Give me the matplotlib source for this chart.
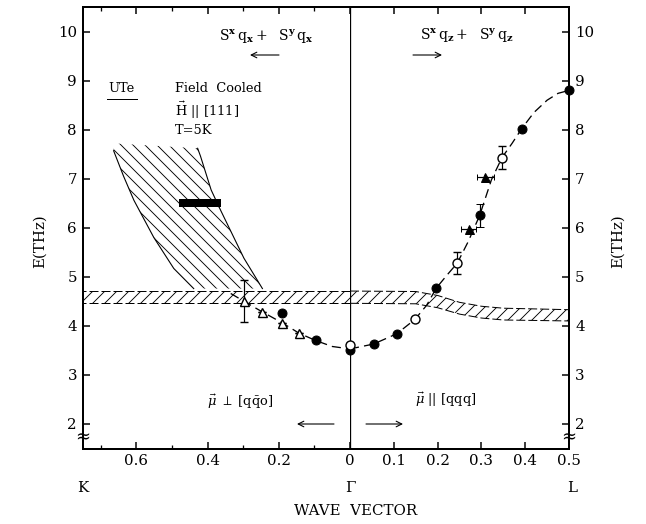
import matplotlib
matplotlib.use('Agg')
import matplotlib.pyplot as plt

W, H = 646, 524
DPI = 72
plt.rcParams['font.family'] = ['DejaVu Serif']
plt.rcParams['mathtext.fontset'] = 'dejavuserif'
plt.rcParams['hatch.linewidth'] = 0.9

# ---------------- data ----------------
# right branch  (Gamma -> L, q along [qqq])
qR_fc = [0.0, 0.054, 0.107, 0.197, 0.296, 0.392, 0.5]
ER_fc = [3.50, 3.64, 3.84, 4.77, 6.25, 8.02, 8.80]
errR_fc = [0, 0, 0, 0, 0.23, 0, 0]
qR_oc = [0.0, 0.148, 0.245, 0.347]
ER_oc = [3.60, 4.13, 5.28, 7.43]
errR_oc = [0, 0, 0.23, 0.23]
qR_ft = [0.271, 0.309]
ER_ft = [5.97, 7.03]
xerrR_ft = [0.017, 0.02]

# left branch (Gamma -> K, q along [qq0])
qL_fc = [0.096, 0.19]
EL_fc = [3.72, 4.26]
qL_ot = [0.143, 0.19, 0.248, 0.298]
EL_ot = [3.85, 4.06, 4.29, 4.51]
errL_ot = [0, 0, 0, 0.43]

# guide-to-the-eye dispersion curve
qL_curve = [0.335, 0.30, 0.25, 0.19, 0.143, 0.096, 0.05, 0.0]
EL_curve = [4.66, 4.51, 4.30, 4.06, 3.85, 3.70, 3.58, 3.53]
qR_curve = [0.0, 0.054, 0.107, 0.148, 0.175, 0.197, 0.22, 0.245, 0.27, 0.296,
            0.323, 0.347, 0.37, 0.392, 0.42, 0.45, 0.475, 0.5]
ER_curve = [3.53, 3.63, 3.84, 4.13, 4.42, 4.77, 5.02, 5.28, 5.72, 6.25,
            6.98, 7.43, 7.72, 8.02, 8.35, 8.60, 8.74, 8.80]

# hatched horizontal band
qL_band = [0.0, 0.75]
EL_band_lo = [4.47, 4.47]
EL_band_hi = [4.72, 4.72]
qR_band = [0.0, 0.15, 0.2, 0.25, 0.3, 0.35, 0.5]
ER_band_hi = [4.71, 4.70, 4.62, 4.48, 4.40, 4.36, 4.33]
ER_band_lo = [4.46, 4.45, 4.37, 4.24, 4.16, 4.12, 4.10]

# hatched continuum region (left)
q_reg_left = [0.664, 0.636, 0.607, 0.551, 0.495, 0.439]
E_reg_left = [7.57, 7.05, 6.56, 5.80, 5.17, 4.76]
q_reg_right = [0.246, 0.298, 0.363, 0.39, 0.42, 0.428]
E_reg_right = [4.76, 5.38, 6.35, 6.77, 7.46, 7.62]
q_reg_top = [0.428, 0.664]
E_reg_top = [7.72, 7.72]

# thick bar
q_bar = [0.363, 0.48]
E_bar = [6.50, 6.50]

yticks = [2, 3, 4, 5, 6, 7, 8, 9, 10]
xL_major = [0, 0.2, 0.4, 0.6]
xL_minor = [0.1, 0.3, 0.5, 0.7]
xR_major = [0.1, 0.2, 0.3, 0.4, 0.5]

# ---------------- figure ----------------
fig = plt.figure(figsize=(W / DPI, H / DPI), dpi=DPI)


def fx(x):
    return x / W


def fy(y):
    return 1 - y / H


X0, XG, X1 = 83, 350, 569
Y0, Y1 = 7, 449
axL = fig.add_axes([fx(X0), fy(Y1), (XG - X0) / W, (Y1 - Y0) / H])
axR = fig.add_axes([fx(XG), fy(Y1), (X1 - XG) / W, (Y1 - Y0) / H])

for ax in (axL, axR):
    ax.set_ylim(1.49, 10.5)
    ax.set_yticks(yticks)
    for s in ax.spines.values():
        s.set_linewidth(2.0)
    ax.tick_params(direction='in', width=1.5, length=7, labelsize=15,
                   top=True, bottom=True)
    ax.tick_params(which='minor', direction='in', width=1.3, length=4,
                   top=True, bottom=True)

axL.set_xlim(0.75, 0)
axR.set_xlim(0, 0.5)
axL.spines['right'].set_visible(False)
axR.spines['left'].set_visible(False)

axL.set_xticks(xL_major)
axL.set_xticklabels(['0', '0.2', '0.4', '0.6'])
axL.set_xticks(xL_minor, minor=True)
axR.set_xticks(xR_major)
axR.set_xticklabels(['0.1', '0.2', '0.3', '0.4', '0.5'])
axL.tick_params(axis='y', left=True, right=False, pad=6)
axR.tick_params(axis='y', left=False, right=True, labelleft=False,
                labelright=True, pad=6)
axL.tick_params(axis='x', pad=5)
axR.tick_params(axis='x', pad=5)

# Gamma line
axR.axvline(0, color='k', lw=1.3, zorder=1)

# band
axL.fill_between(qL_band, EL_band_lo, EL_band_hi, facecolor='none',
                 edgecolor='k', hatch='//', lw=0, zorder=1)
axL.plot(qL_band, EL_band_lo, 'k', lw=1.0, dashes=(9, 3), zorder=1)
axL.plot(qL_band, EL_band_hi, 'k', lw=1.0, dashes=(9, 3), zorder=1)
axR.fill_between(qR_band, ER_band_lo, ER_band_hi, facecolor='none',
                 edgecolor='k', hatch='//', lw=0, zorder=1)
axR.plot(qR_band, ER_band_lo, 'k', lw=1.0, dashes=(9, 3), zorder=1)
axR.plot(qR_band, ER_band_hi, 'k', lw=1.0, dashes=(9, 3), zorder=1)

# continuum region
poly_q = q_reg_left + q_reg_right + q_reg_top[1:]
poly_E = E_reg_left + E_reg_right + E_reg_top[1:]
axL.fill(poly_q, poly_E, facecolor='none', edgecolor='k', hatch='\\\\',
         lw=0, zorder=1)
axL.plot(q_reg_left, E_reg_left, 'k', lw=1.1, zorder=2)
axL.plot(q_reg_right, E_reg_right, 'k', lw=1.1, zorder=2)
axL.plot(q_bar, E_bar, 'k', lw=8, solid_capstyle='butt', zorder=3)

# dispersion curve
axL.plot(qL_curve, EL_curve, 'k', lw=1.3, dashes=(7, 4), zorder=2)
axR.plot(qR_curve, ER_curve, 'k', lw=1.3, dashes=(7, 4), zorder=2,
         clip_on=False)

ms = 9
axR.errorbar(qR_fc, ER_fc, yerr=errR_fc, fmt='o', ms=ms, mfc='k', mec='k',
             ecolor='k', elinewidth=1.2, capsize=4, zorder=4, clip_on=False)
axR.errorbar(qR_oc, ER_oc, yerr=errR_oc, fmt='o', ms=ms, mfc='white',
             mec='k', mew=1.4, ecolor='k', elinewidth=1.2, capsize=4,
             zorder=4, clip_on=False)
axR.errorbar(qR_ft, ER_ft, xerr=xerrR_ft, fmt='^', ms=ms, mfc='k', mec='k',
             ecolor='k', elinewidth=1.2, capsize=3, zorder=4)
axL.errorbar(qL_fc, EL_fc, fmt='o', ms=ms, mfc='k', mec='k', zorder=4)
axL.errorbar(qL_ot, EL_ot, yerr=errL_ot, fmt='^', ms=ms, mfc='white',
             mec='k', mew=1.4, ecolor='k', elinewidth=1.2, capsize=4,
             zorder=4)

# ---------------- texts ----------------
fs = 14
fig.text(fx(266), fy(37), r'$\mathrm{S}^{\mathbf{x}}\,\mathrm{q}_{\mathbf{x}}+\ \ \mathrm{S}^{\mathbf{y}}\,\mathrm{q}_{\mathbf{x}}$',
         ha='center', va='center', fontsize=fs)
fig.text(fx(467), fy(36), r'$\mathrm{S}^{\mathbf{x}}\,\mathrm{q}_{\mathbf{z}}+\ \ \mathrm{S}^{\mathbf{y}}\,\mathrm{q}_{\mathbf{z}}$',
         ha='center', va='center', fontsize=fs)
arr = dict(arrowstyle='->', lw=1.1, color='k', shrinkA=0, shrinkB=0,
           mutation_scale=14)
fig.add_artist(matplotlib.patches.FancyArrowPatch((fx(279), fy(55)), (fx(250), fy(55)),
               transform=fig.transFigure, **arr))
fig.add_artist(matplotlib.patches.FancyArrowPatch((fx(413), fy(55)), (fx(442), fy(55)),
               transform=fig.transFigure, **arr))

fig.text(fx(108), fy(89), 'UTe', ha='left', va='center', fontsize=13)
fig.add_artist(matplotlib.lines.Line2D([fx(107), fx(137)], [fy(99), fy(99)],
               color='k', lw=1.0, transform=fig.transFigure))
fig.text(fx(175), fy(89), 'Field  Cooled', ha='left', va='center', fontsize=13)
fig.text(fx(175), fy(110), r'$\vec{\mathrm{H}}\ ||\ [111]$', ha='left',
         va='center', fontsize=13)
fig.text(fx(175), fy(130), 'T=5K', ha='left', va='center', fontsize=13)

fig.text(fx(240), fy(402), r'$\vec{\mu}\ \perp\ [\mathrm{q\bar{q}o}]$',
         ha='center', va='center', fontsize=13)
fig.text(fx(446), fy(400), r'$\vec{\mu}\ ||\ [\mathrm{qqq}]$',
         ha='center', va='center', fontsize=13)
fig.add_artist(matplotlib.patches.FancyArrowPatch((fx(334), fy(424)), (fx(297), fy(424)),
               transform=fig.transFigure, **arr))
fig.add_artist(matplotlib.patches.FancyArrowPatch((fx(366), fy(424)), (fx(403), fy(424)),
               transform=fig.transFigure, **arr))

fig.text(fx(83), fy(488), 'K', ha='center', va='center', fontsize=15)
fig.text(fx(350), fy(488), 'Γ', ha='center', va='center', fontsize=15)
fig.text(fx(572), fy(488), 'L', ha='center', va='center', fontsize=15)
fig.text(fx(356), fy(511), 'WAVE  VECTOR', ha='center', va='center',
         fontsize=15)
fig.text(fx(40), fy(241), 'E(THz)', ha='center', va='center', fontsize=15,
         rotation=90)
fig.text(fx(618), fy(241), 'E(THz)', ha='center', va='center', fontsize=15,
         rotation=90)

# axis break marks
for xb in (X0, X1):
    fig.text(fx(xb), fy(437), '≈', ha='center', va='center', fontsize=18)

fig.savefig('out.png', dpi=DPI)
